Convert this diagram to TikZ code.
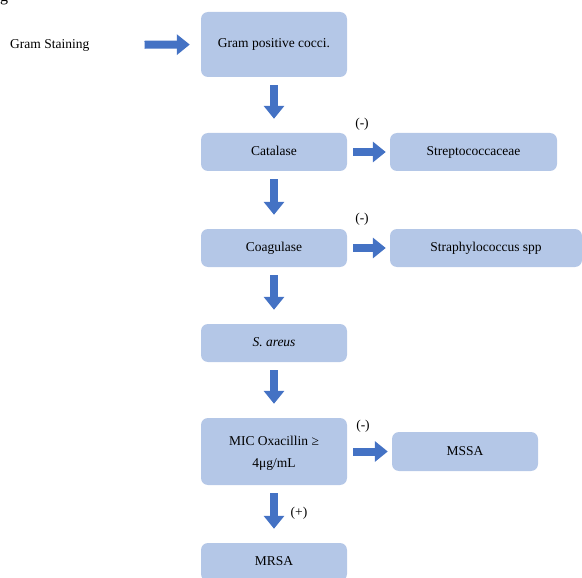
\documentclass[tikz,border=0pt]{standalone}
\usepackage{fontspec}
\setmainfont{Liberation Serif}
\usetikzlibrary{arrows.meta}
\definecolor{boxblue}{RGB}{180,199,231}
\definecolor{arrowblue}{RGB}{68,114,196}
\tikzset{
	stepbox/.style={fill=boxblue, rounded corners=7pt, minimum width=146pt, minimum height=38pt,
		inner sep=2pt, align=center, font=\fontsize{13.5}{22}\selectfont},
	onebox/.style={stepbox, text height=9pt, text depth=2pt},
	blockarrow/.style={draw=arrowblue, line width=8pt, -{Triangle[width=20pt,length=13pt]}},
	downarrow/.style={blockarrow, shorten <=8pt, shorten >=14pt},
	sidearrow/.style={blockarrow, shorten <=6pt, shorten >=4pt},
	sign/.style={font=\fontsize{13.5}{15}\selectfont, inner sep=0pt}
}
\begin{document}
\begin{tikzpicture}[x=1pt,y=-1pt]
		\useasboundingbox (0,0) rectangle (582,578);
		% cut off caption above
			\node[anchor=base west, font=\fontsize{16}{18}\selectfont, inner sep=0pt] (capt) at (0,2) {g};
		% main column
			\node[onebox, minimum height=65pt] (gram) at (274,44.5) {Gram positive cocci.};
			\node[onebox] (cat) at (274,152) {Catalase};
			\node[onebox] (coag) at (274,248) {Coagulase};
			\node[onebox] (saur) at (274,343) {\textit{S. areus}};
			\node[stepbox, minimum height=67pt] (mic) at (274,451.5) {\rule{0pt}{12pt}MIC Oxacillin ≥\\4μg/mL};
			\node[onebox] (mrsa) at (274,562) {MRSA};
		% negative results
			\node[onebox, minimum width=167pt] (strep) at (473.5,152) {Streptococcaceae};
			\node[onebox, minimum width=192pt] (staph) at (486,248) {Straphylococcus spp};
			\node[onebox, minimum height=39pt] (mssa) at (465,451.5) {MSSA};
		% start
			\node[anchor=west, font=\fontsize{13.5}{15}\selectfont, inner sep=0pt] (stain) at (10,45) {Gram Staining};
			\draw[blockarrow, shorten <=55pt, shorten >=11pt] (stain.east) -- (gram.west);
		% arrows down
			\foreach \a/\b in {gram/cat, cat/coag, coag/saur, saur/mic, mic/mrsa}{
				\draw[downarrow] (\a.south) -- (\b.north);
				}
		% arrows right
			\foreach \a/\b in {cat/strep, coag/staph, mic/mssa}{
				\draw[sidearrow] (\a.east) -- (\b.west);
				}
		% signs
			\node[sign] (n1) at (362,124) {(-)};
			\node[sign] (n2) at (362,219) {(-)};
			\node[sign] (n3) at (363,426) {(-)};
			\node[sign] (p1) at (299,513) {(+)};
	\end{tikzpicture}
\end{document}
